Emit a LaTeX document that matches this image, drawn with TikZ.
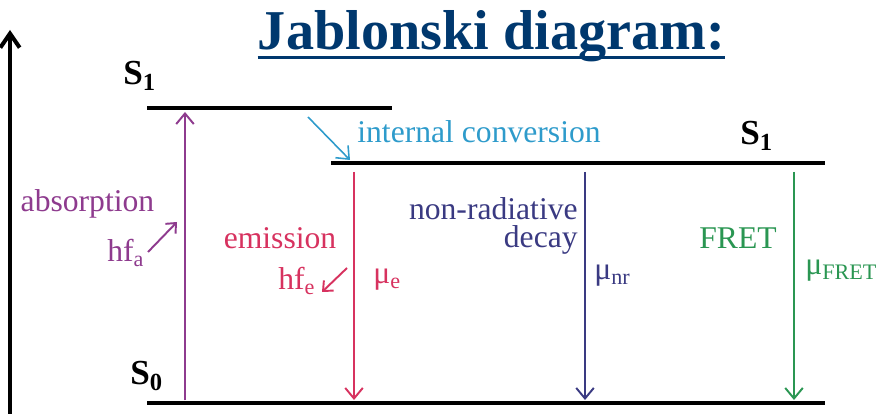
\documentclass[tikz,border=0pt]{standalone}
\usepackage{fontspec}
\setmainfont{Liberation Serif}
\usepackage{tikz}
\usetikzlibrary{arrows.meta}

\definecolor{titleblue}{HTML}{00386E}
\definecolor{absviola}{HTML}{8E3B8E}
\definecolor{icciano}{HTML}{2E9BCB}
\definecolor{emrosso}{HTML}{D7325F}
\definecolor{nrindaco}{HTML}{3A3A82}
\definecolor{fretverde}{HTML}{2A9652}

\tikzset{
  enlevel/.style={line width=2.8pt},
  trans/.style={line width=1.1pt, -{Straight Barb[length=6pt,width=10pt]}},
  small arrow/.style={line width=1.1pt, -{Straight Barb[length=4.5pt,width=8pt]}},
  stato/.style={font=\fontsize{20}{22}\selectfont\bfseries, anchor=base west}
}

\begin{document}
\begin{tikzpicture}[inner sep=0pt, font=\fontsize{18}{16}\selectfont]
			\useasboundingbox (0,0) rectangle (17.8,8.28);

			% Titolo
			\node[anchor=base, text=titleblue, font=\fontsize{32}{36}\selectfont\bfseries] (titolo) at (9.83, 7.28) {Jablonski diagram:};
			\draw[titleblue, line width=1.7pt] ([yshift=-4pt]titolo.base west) -- ([yshift=-4pt]titolo.base east);

			% Asse dell'energia
			\coordinate (asse0) at (0.2, 0);
			\coordinate (asse1) at (0.2, 7.68);
			\draw[line width=2.3pt, -{Straight Barb[length=8pt,width=11pt]}] (asse0) -- (asse1);

			% Livelli energetici
			\coordinate (S1aL) at (2.94, 6.12);
			\coordinate (S1aR) at (7.84, 6.12);
			\coordinate (S1bL) at (6.62, 5.02);
			\coordinate (S1bR) at (16.5, 5.02);
			\coordinate (S0L) at (2.94, 0.22);
			\coordinate (S0R) at (16.5, 0.22);
			\draw[enlevel] (S1aL) -- (S1aR);
			\draw[enlevel] (S1bL) -- (S1bR);
			\draw[enlevel] (S0L) -- (S0R);
			\node[stato] (lS1a) at (2.46, 6.58) {S\textsubscript{1}};
			\node[stato] (lS1b) at (14.8, 5.38) {S\textsubscript{1}};
			\node[stato] (lS0) at (2.6, 0.58) {S\textsubscript{0}};

			% Assorbimento
			\coordinate (abs0) at (3.7, 0.27);
			\coordinate (abs1) at (3.7, 6.04);
			\draw[trans, absviola] (abs0) -- (abs1);
			\node[anchor=base, text=absviola] (absorption) at (1.75, 4.04) {absorption};
			\node[anchor=base west, text=absviola] (hfa) at (2.14, 3.04) {hf\textsubscript{a}};
			\coordinate (hfa0) at (2.96, 3.24);
			\coordinate (hfa1) at (3.54, 3.84);
			\draw[small arrow, absviola] (hfa0) -- (hfa1);

			% Conversione interna
			\coordinate (ic0) at (6.16, 5.94);
			\coordinate (ic1) at (7.0, 5.08);
			\draw[trans, icciano, line width=0.9pt] (ic0) -- (ic1);
			\node[anchor=base west, text=icciano] (ic) at (7.14, 5.42) {internal conversion};

			% Emissione
			\coordinate (em0) at (7.08, 4.84);
			\coordinate (em1) at (7.08, 0.28);
			\draw[trans, emrosso] (em0) -- (em1);
			\node[anchor=base, text=emrosso] (emission) at (5.6, 3.3) {emission};
			\node[anchor=base west, text=emrosso] (hfe) at (5.56, 2.48) {hf\textsubscript{e}};
			\node[anchor=base west, text=emrosso] (mue) at (7.46, 2.6) {μ\textsubscript{e}};
			\coordinate (hfe0) at (6.94, 2.92);
			\coordinate (hfe1) at (6.44, 2.44);
			\draw[small arrow, emrosso] (hfe0) -- (hfe1);

			% Decadimento non radiativo
			\coordinate (nr0) at (11.7, 4.84);
			\coordinate (nr1) at (11.7, 0.28);
			\draw[trans, nrindaco] (nr0) -- (nr1);
			\node[anchor=base east, align=right, text=nrindaco] (nonrad) at (11.56, 3.32) {non-radiative\\decay};
			\node[anchor=base west, text=nrindaco] (munr) at (11.88, 2.68) {μ\textsubscript{nr}};

			% FRET
			\coordinate (fret0) at (15.88, 4.84);
			\coordinate (fret1) at (15.88, 0.28);
			\draw[trans, fretverde] (fret0) -- (fret1);
			\node[anchor=base east, text=fretverde] (fret) at (15.54, 3.3) {FRET};
			\node[anchor=base west, text=fretverde] (mufret) at (16.1, 2.78) {μ\textsubscript{FRET}};

		\end{tikzpicture}
\end{document}
